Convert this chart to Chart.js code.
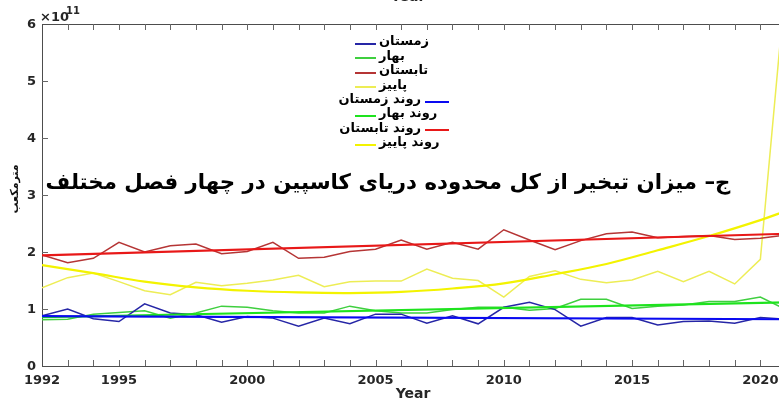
<!DOCTYPE html>
<html>
<head>
<meta charset="utf-8">
<script src="https://cdn.jsdelivr.net/npm/chart.js@4/dist/chart.umd.min.js"></script>
<style>
  html, body { margin: 0; padding: 0; background: #fff; overflow: hidden; }
  #wrap { width: 790px; height: 403px; }
</style>
</head>
<body>
<div id="wrap"><canvas id="c" width="790" height="403"></canvas></div>
<script>
// Seasonal evaporation over the whole Caspian Sea (x 10^11 m3), 1992-2021
const years = [1992,1993,1994,1995,1996,1997,1998,1999,2000,2001,2002,2003,2004,2005,2006,
               2007,2008,2009,2010,2011,2012,2013,2014,2015,2016,2017,2018,2019,2020,2021];

const winter = [0.88,1.00,0.83,0.78,1.09,0.93,0.90,0.77,0.87,0.84,0.70,0.84,0.74,0.91,0.91,
                0.75,0.88,0.74,1.03,1.12,0.99,0.70,0.85,0.85,0.72,0.78,0.79,0.75,0.85,0.82];
const spring = [0.81,0.82,0.91,0.94,0.97,0.84,0.93,1.05,1.03,0.97,0.93,0.93,1.05,0.97,0.93,
                0.93,0.99,1.03,1.03,0.98,1.01,1.17,1.17,1.01,1.05,1.07,1.13,1.13,1.21,0.99];
const summer = [1.95,1.81,1.89,2.17,2.00,2.11,2.14,1.97,2.01,2.17,1.89,1.91,2.01,2.05,2.21,
                2.05,2.17,2.05,2.39,2.21,2.04,2.20,2.32,2.35,2.25,2.27,2.29,2.22,2.24,2.30];
const autumn = [1.37,1.55,1.63,1.48,1.32,1.25,1.47,1.41,1.45,1.51,1.59,1.39,1.48,1.49,1.49,
                1.70,1.54,1.50,1.21,1.57,1.67,1.52,1.46,1.51,1.66,1.48,1.66,1.44,1.87,6.80];

// fitted trends
const trendEnds = [1992, 2021];
const winterTrend = [0.875, 0.82];
const springTrend = [0.855, 1.115];
const summerTrend = [1.94, 2.32];
const autumnTrendYears  = [1992,1994,1996,1998,2000,2002,2004,2006,2008,2010,2012,2014,2016,2018,2020,2021];
const autumnTrend       = [1.77,1.63,1.48,1.38,1.32,1.29,1.28,1.30,1.36,1.45,1.61,1.79,2.03,2.28,2.56,2.72];

// axis ticks
const yTicks = [0,1,2,3,4,5,6];
const xTickLabels = [1992,1995,2000,2005,2010,2015,2020];

// legend labels
const legendLabels = ['زمستان','بهار','تابستان','پاییز','روند زمستان','روند بهار','روند تابستان','روند پاییز'];
const titleText = 'ج– میزان تبخیر از کل محدوده دریای کاسپین در چهار فصل مختلف';
const yAxisText = 'مترمکعب';
const xAxisText = 'Year';

const colors = {
  winter: '#2626a6', winterT: '#0a0af0',
  spring: '#3fcf3f', springT: '#1ee31e',
  summer: '#b53535', summerT: '#e81818',
  autumn: '#eded55', autumnT: '#f3f300'
};

const pts = (xs, ys) => xs.map((x, i) => ({ x: x, y: ys[i] }));

function series(label, xs, ys, color, width, order, tension) {
  return {
    label: label, data: pts(xs, ys), borderColor: color, backgroundColor: color,
    borderWidth: width, pointRadius: 0, fill: false, order: order, tension: tension || 0
  };
}

const datasets = [
  series(legendLabels[0], years, winter, colors.winter, 1.5, 2),
  series(legendLabels[1], years, spring, colors.spring, 1.5, 2),
  series(legendLabels[2], years, summer, colors.summer, 1.5, 2),
  series(legendLabels[3], years, autumn, colors.autumn, 1.5, 2),
  series(legendLabels[4], trendEnds, winterTrend, colors.winterT, 2.2, 1),
  series(legendLabels[5], trendEnds, springTrend, colors.springT, 2.2, 1),
  series(legendLabels[6], trendEnds, summerTrend, colors.summerT, 2.2, 1),
  series(legendLabels[7], autumnTrendYears, autumnTrend, colors.autumnT, 2.2, 1, 0.4)
];

const BOLD = 'bold ';
const FAM = '"DejaVu Sans", sans-serif';

// axes box, inward ticks, labels
const axesPlugin = {
  id: 'matlabAxes',
  beforeDatasetsDraw(chart) {
    const { ctx, chartArea: a, scales: { x, y } } = chart;
    ctx.save();
    ctx.strokeStyle = '#4d4d4d';
    ctx.lineWidth = 1;
    ctx.beginPath();
    ctx.moveTo(a.left + 0.5, a.top + 0.5);
    ctx.lineTo(a.left + 0.5, a.bottom + 0.5);
    ctx.moveTo(a.left, a.bottom + 0.5);
    ctx.lineTo(a.right, a.bottom + 0.5);
    ctx.moveTo(a.left, a.top + 0.5);
    ctx.lineTo(a.right, a.top + 0.5);
    ctx.stroke();

    ctx.strokeStyle = '#666';
    ctx.beginPath();
    for (let yr = 1993; yr <= 2021; yr++) {
      const px = Math.round(x.getPixelForValue(yr)) + 0.5;
      ctx.moveTo(px, a.bottom);
      ctx.lineTo(px, a.bottom - 6);
      ctx.moveTo(px, a.top);
      ctx.lineTo(px, a.top + 6);
    }
    yTicks.forEach(v => {
      if (v === 0 || v === 6) return;
      const py = Math.round(y.getPixelForValue(v)) + 0.5;
      ctx.moveTo(a.left, py);
      ctx.lineTo(a.left + 6, py);
    });
    ctx.stroke();
    ctx.restore();
  },
  afterDraw(chart) {
    const { ctx, chartArea: a, scales: { x, y } } = chart;
    ctx.save();
    ctx.fillStyle = '#262626';
    ctx.font = BOLD + '13px ' + FAM;
    ctx.textBaseline = 'middle';
    ctx.textAlign = 'right';
    yTicks.forEach(v => ctx.fillText(String(v), a.left - 6, y.getPixelForValue(v) + 1));
    ctx.textAlign = 'center';
    xTickLabels.forEach(v => ctx.fillText(String(v), x.getPixelForValue(v), a.bottom + 15));

    // exponent
    ctx.textAlign = 'left';
    ctx.textBaseline = 'alphabetic';
    ctx.font = BOLD + '13px ' + FAM;
    ctx.fillText('×10', a.left - 2, a.top - 3);
    ctx.font = BOLD + '10px ' + FAM;
    ctx.fillText('11', a.left + 24, a.top - 10);

    // axis titles
    ctx.font = BOLD + '14px ' + FAM;
    ctx.textAlign = 'center';
    ctx.textBaseline = 'middle';
    ctx.fillText(xAxisText, 413, 394);
    ctx.fillText(xAxisText, 408, -3);

    // Persian texts are laid out right-to-left
    ctx.direction = 'rtl';

    ctx.save();
    ctx.translate(15, 189);
    ctx.rotate(-Math.PI / 2);
    ctx.font = BOLD + '11px ' + FAM;
    ctx.fillStyle = '#111';
    ctx.textAlign = 'center';
    ctx.fillText(yAxisText, 0, 0);
    ctx.restore();

    // title over the plot
    ctx.fillStyle = '#000';
    let fs = 20;
    ctx.font = BOLD + fs + 'px ' + FAM;
    const w = ctx.measureText(titleText).width;
    fs = fs * 685 / w;
    ctx.font = BOLD + fs.toFixed(2) + 'px ' + FAM;
    ctx.textAlign = 'center';
    ctx.fillText(titleText, 388, 183);

    // legend
    ctx.font = BOLD + '13px ' + FAM;
    ctx.textBaseline = 'middle';
    const rowY = i => 42 + i * 14.4;
    chart.data.datasets.forEach((ds, i) => {
      const yy = rowY(i);
      const lineRight = (i === 4 || i === 6);
      let lx0, lx1;
      ctx.fillStyle = '#000';
      if (lineRight) {
        ctx.textAlign = 'right';
        ctx.fillText(ds.label, 421, yy);
        lx0 = 425; lx1 = 449;
      } else {
        ctx.textAlign = 'left';
        ctx.fillText(ds.label, 379, yy);
        lx0 = 355; lx1 = 376;
      }
      ctx.strokeStyle = ds.borderColor;
      ctx.lineWidth = 2;
      ctx.beginPath();
      ctx.moveTo(lx0, Math.round(yy) + 2);
      ctx.lineTo(lx1, Math.round(yy) + 2);
      ctx.stroke();
    });
    ctx.restore();
  }
};

new Chart(document.getElementById('c'), {
  type: 'line',
  data: { datasets: datasets },
  options: {
    responsive: false,
    animation: false,
    layout: { padding: { left: 42, top: 24, right: 4, bottom: 37 } },
    plugins: { legend: { display: false }, tooltip: { enabled: false } },
    scales: {
      x: { type: 'linear', min: 1992, max: 2021, display: false },
      y: { type: 'linear', min: 0, max: 6, display: false }
    }
  },
  plugins: [axesPlugin]
});
</script>
</body>
</html>
